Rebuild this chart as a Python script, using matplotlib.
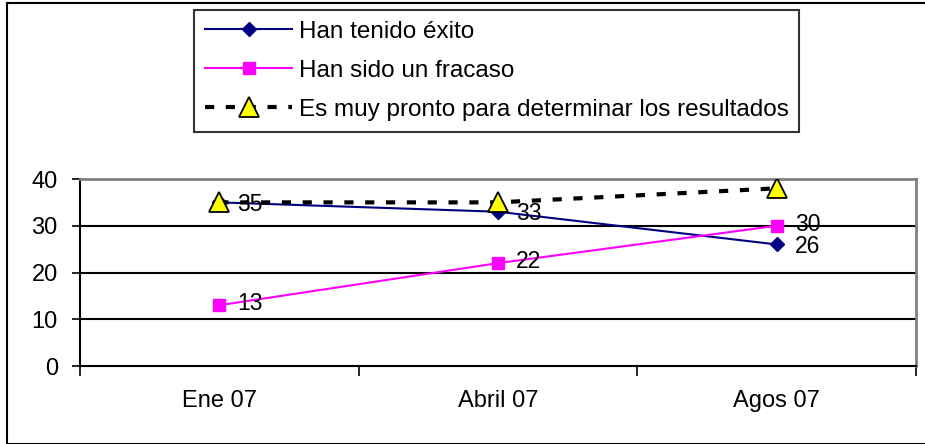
import matplotlib.pyplot as plt
from matplotlib.patches import Rectangle

plt.rcParams['font.family'] = ['Liberation Sans', 'DejaVu Sans']

periods = ["Ene 07", "Abril 07", "Agos 07"]
exito = [35, 33, 26]
fracaso = [13, 22, 30]
pronto = [35, 35, 38]
series_names = ["Han tenido éxito", "Han sido un fracaso",
                "Es muy pronto para determinar los resultados"]

fig = plt.figure(figsize=(9.25, 4.44), dpi=100)
ax = fig.add_axes([80/925, 1 - 366/444, (916-80)/925, (366-179)/444])

x = range(len(periods))

l1, = ax.plot(x, exito, color="#000080", lw=1.5, marker="D", ms=7,
              mfc="#000080", mec="#000080", zorder=3)
l2, = ax.plot(x, fracaso, color="#ff00ff", lw=1.5, marker="s", ms=8,
              mfc="#ff00ff", mec="#ff00ff", zorder=3)
# triangles sit on top of the diamonds, as in the original
l3, = ax.plot(x, pronto, color="black", lw=3, dashes=(2.2, 2.8),
              marker="^", ms=15, mfc="#ffff00", mec="black", mew=1.3, zorder=4)

# value labels (pink nudged up, blue down a hair so 30/26 don't collide)
for xi, v in zip(x, exito):
    ax.annotate(str(v), (xi, v), xytext=(13, -1.5), textcoords="offset points",
                fontsize=16.5, va="center", ha="left", zorder=6)
for xi, v in zip(x, fracaso):
    ax.annotate(str(v), (xi, v), xytext=(13, 1.0), textcoords="offset points",
                fontsize=16.5, va="center", ha="left", zorder=6)

ax.set_xlim(-0.5, 2.5)
ax.set_ylim(0, 40)
ax.set_yticks([0, 10, 20, 30, 40])
ax.tick_params(axis="y", labelsize=17, length=6, width=1.2, direction="out", pad=10)
ax.set_xticks([-0.5, 0.5, 1.5, 2.5])
ax.set_xticklabels([])
ax.tick_params(axis="x", length=7, width=1.2, direction="out")
ax.set_xticks(list(x), minor=True)
ax.set_xticklabels(periods, minor=True)
ax.tick_params(axis="x", which="minor", length=0, labelsize=17, pad=17)

for g in [10, 20, 30]:
    ax.axhline(g, color="black", lw=1.5, zorder=1)
ax.spines["top"].set_color("#808080")
ax.spines["right"].set_color("#808080")
ax.spines["top"].set_linewidth(2)
ax.spines["right"].set_linewidth(2)
ax.spines["left"].set_linewidth(1.5)
ax.spines["bottom"].set_linewidth(1.5)

leg = fig.legend([l1, l2, l3], series_names, loc="upper left",
                 bbox_to_anchor=(194/925, 1 - 10/444), fontsize=17.5,
                 frameon=True, fancybox=False, edgecolor="black",
                 handlelength=3.6, handletextpad=0.25, borderpad=0.45,
                 labelspacing=0.7, borderaxespad=0)
leg.get_frame().set_linewidth(1.5)

# outer chart border
fig.patches.append(Rectangle((7/925, 0), 1, 1 - 3/444, transform=fig.transFigure,
                             fill=False, edgecolor="black", lw=1.5))

fig.savefig("out.png", dpi=100)
